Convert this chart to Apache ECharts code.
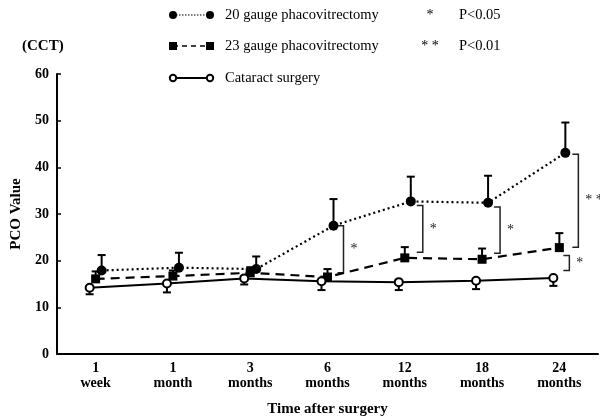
<!DOCTYPE html>
<html><head><meta charset="utf-8">
<script src="https://cdn.jsdelivr.net/npm/echarts@6/dist/echarts.min.js"></script>
<style>html,body{margin:0;padding:0;background:#fff}#c{width:600px;height:418px}</style>
</head><body><div id="c"></div>
<script>
// ---- data ----
const categories = ['1\nweek','1\nmonth','3\nmonths','6\nmonths','12\nmonths','18\nmonths','24\nmonths'];
const g20Mean = [17.9, 18.5, 18.2, 27.5, 32.7, 32.4, 43.1];
const g20SD   = [3.3, 3.2, 2.7, 5.7, 5.3, 5.8, 6.5];
const g23Mean = [16.1, 16.7, 17.4, 16.5, 20.6, 20.3, 22.8];
const g23SD   = [1.6, 1.2, 1.2, 1.7, 2.3, 2.3, 3.1];
const catMean = [14.2, 15.1, 16.2, 15.6, 15.4, 15.7, 16.3];
const catSD   = [1.4, 1.9, 1.3, 1.9, 1.7, 1.8, 1.7];
const yTicks = [0, 10, 20, 30, 40, 50, 60];
// significance brackets
const bracketCat    = [3, 4, 5, 6, 6];
const bracketTop    = [27.5, 31.8, 31.5, 42.8, 21.1];
const bracketBottom = [17.4, 21.8, 21.6, 22.9, 17.9];
const bracketLabel  = ['*', '*', '*', '* *', '*'];
const seriesNames = ['20 gauge phacovitrectomy', '23 gauge phacovitrectomy', 'Cataract surgery'];
const pLabels = [['*', 'P<0.05'], ['* *', 'P<0.01']];

// ---- styles ----
const bracketDx = [10, 12, 12, 13, 4];
const FONT = 'Liberation Serif';

const chart = echarts.init(document.getElementById('c'));

function errRender(dir) {
  return function (params, api) {
    const i = api.value(0), m = api.value(1), e = api.value(2);
    const p0 = api.coord([i, m]);
    const p1 = api.coord([i, m + dir * e]);
    return {
      type: 'group',
      children: [
        { type: 'line', shape: { x1: p0[0], y1: p0[1], x2: p1[0], y2: p1[1] }, style: { stroke: '#000', lineWidth: 2 } },
        { type: 'line', shape: { x1: p1[0] - 4, y1: p1[1], x2: p1[0] + 4, y2: p1[1] }, style: { stroke: '#000', lineWidth: 2 } }
      ]
    };
  };
}

function bracketRender(params, api) {
  const k = params.dataIndex;
  const pT = api.coord([api.value(0), api.value(1)]);
  const pB = api.coord([api.value(0), api.value(2)]);
  const vx = pT[0] + bracketDx[k];
  const arm = 6;
  return {
    type: 'group',
    children: [
      { type: 'polyline', shape: { points: [[vx - arm, pT[1]], [vx, pT[1]], [vx, pB[1]], [vx - arm, pB[1]]] },
        style: { stroke: '#222', lineWidth: 1.5, fill: null } },
      { type: 'text', x: vx + 7, y: (pT[1] + pB[1]) / 2,
        style: { text: bracketLabel[k], fill: '#222', font: '14px ' + FONT, verticalAlign: 'middle', align: 'left' } }
    ]
  };
}

const mk = (mean, sd) => categories.map((c, i) => [i, mean[i], sd[i]]);

const hiddenX = gi => ({ type: 'category', gridIndex: gi, data: categories, show: false, boundaryGap: true });
const hiddenY = gi => ({ type: 'value', gridIndex: gi, min: 0, max: 60, interval: 10, show: false });

// legend graphic
const legendY = [15, 46, 78];
const legendGraphic = [];
legendGraphic.push({ type: 'line', shape: { x1: 173, y1: legendY[0], x2: 210, y2: legendY[0] }, style: { stroke: '#000', lineWidth: 1, lineDash: [1.5, 1.5] } });
legendGraphic.push({ type: 'circle', shape: { cx: 173, cy: legendY[0], r: 4 }, style: { fill: '#000' } });
legendGraphic.push({ type: 'circle', shape: { cx: 210, cy: legendY[0], r: 4 }, style: { fill: '#000' } });
legendGraphic.push({ type: 'line', shape: { x1: 173, y1: legendY[1], x2: 210, y2: legendY[1] }, style: { stroke: '#000', lineWidth: 1.5, lineDash: [5, 4] } });
legendGraphic.push({ type: 'rect', shape: { x: 169, y: legendY[1] - 4, width: 8, height: 8 }, style: { fill: '#000' } });
legendGraphic.push({ type: 'rect', shape: { x: 206, y: legendY[1] - 4, width: 8, height: 8 }, style: { fill: '#000' } });
legendGraphic.push({ type: 'line', shape: { x1: 173, y1: legendY[2], x2: 210, y2: legendY[2] }, style: { stroke: '#000', lineWidth: 2 } });
legendGraphic.push({ type: 'circle', shape: { cx: 173, cy: legendY[2], r: 3.2 }, style: { fill: '#fff', stroke: '#000', lineWidth: 2 } });
legendGraphic.push({ type: 'circle', shape: { cx: 210, cy: legendY[2], r: 3.2 }, style: { fill: '#fff', stroke: '#000', lineWidth: 2 } });
seriesNames.forEach((n, i) => {
  legendGraphic.push({ type: 'text', x: 225, y: legendY[i], style: { text: n, font: '14.5px ' + FONT, fill: '#000', verticalAlign: 'middle' } });
});
pLabels.forEach((p, i) => {
  legendGraphic.push({ type: 'text', x: 430, y: legendY[i], style: { text: p[0], font: '14px ' + FONT, fill: '#000', verticalAlign: 'middle', align: 'center' } });
  legendGraphic.push({ type: 'text', x: 459, y: legendY[i], style: { text: p[1], font: '14.5px ' + FONT, fill: '#000', verticalAlign: 'middle' } });
});
legendGraphic.push({ type: 'text', x: 22, y: 46, style: { text: '(CCT)', font: 'bold 15px ' + FONT, fill: '#000', verticalAlign: 'middle' } });

const gridBase = { top: 74, bottom: 64, containLabel: false, outerBoundsMode: 'none' };

chart.setOption({
  animation: false,
  backgroundColor: '#fff',
  graphic: legendGraphic,
  grid: [
    Object.assign({ left: 57, width: 541 }, gridBase),
    Object.assign({ left: 63, width: 541 }, gridBase),
    Object.assign({ left: 51, width: 541 }, gridBase)
  ],
  xAxis: [
    {
      type: 'category', gridIndex: 0, data: categories, boundaryGap: true,
      name: 'Time after surgery', nameLocation: 'middle', nameGap: 48,
      nameTextStyle: { fontFamily: FONT, fontWeight: 'bold', fontSize: 15, color: '#000' },
      axisLine: { lineStyle: { color: '#000', width: 2 } },
      axisTick: { inside: true, alignWithLabel: true, length: 3, lineStyle: { color: '#000', width: 2 } },
      axisLabel: { fontFamily: FONT, fontWeight: 'bold', fontSize: 14, color: '#000', lineHeight: 15, margin: 7, interval: 0 }
    },
    hiddenX(1), hiddenX(2)
  ],
  yAxis: [
    {
      type: 'value', gridIndex: 0, min: 0, max: 60, interval: 10,
      name: 'PCO Value', nameLocation: 'middle', nameGap: 32,
      nameTextStyle: { fontFamily: FONT, fontWeight: 'bold', fontSize: 15, color: '#000' },
      axisLine: { show: true, lineStyle: { color: '#000', width: 2 } },
      axisTick: { show: true, inside: true, length: 4, lineStyle: { color: '#000', width: 1.5 } },
      axisLabel: { fontFamily: FONT, fontWeight: 'bold', fontSize: 14, color: '#000', margin: 8,
        formatter: v => yTicks.includes(v) ? String(v) : '' },
      splitLine: { show: false }
    },
    hiddenY(1), hiddenY(2)
  ],
  series: [
    { type: 'custom', xAxisIndex: 1, yAxisIndex: 1, renderItem: errRender(1), data: mk(g20Mean, g20SD), z: 1, silent: true, clip: false },
    { type: 'custom', xAxisIndex: 0, yAxisIndex: 0, renderItem: errRender(1), data: mk(g23Mean, g23SD), z: 1, silent: true, clip: false },
    { type: 'custom', xAxisIndex: 2, yAxisIndex: 2, renderItem: errRender(-1), data: mk(catMean, catSD), z: 1, silent: true, clip: false },
    {
      name: seriesNames[0], type: 'line', xAxisIndex: 1, yAxisIndex: 1, data: g20Mean, z: 3,
      symbol: 'circle', symbolSize: 10, showAllSymbol: true, clip: false,
      lineStyle: { color: '#000', width: 2.2, type: [2, 3] },
      itemStyle: { color: '#000' }
    },
    {
      name: seriesNames[1], type: 'line', xAxisIndex: 0, yAxisIndex: 0, data: g23Mean, z: 3,
      symbol: 'rect', symbolSize: 9, showAllSymbol: true, clip: false,
      lineStyle: { color: '#000', width: 2.2, type: [9, 6] },
      itemStyle: { color: '#000' }
    },
    {
      name: seriesNames[2], type: 'line', xAxisIndex: 2, yAxisIndex: 2, data: catMean, z: 3,
      symbol: 'circle', symbolSize: 8, showAllSymbol: true, clip: false,
      lineStyle: { color: '#000', width: 2 },
      itemStyle: { color: '#fff', borderColor: '#000', borderWidth: 2 }
    },
    {
      type: 'custom', xAxisIndex: 1, yAxisIndex: 1, renderItem: bracketRender, z: 2, silent: true, clip: false,
      data: bracketCat.map((c, i) => [c, bracketTop[i], bracketBottom[i]])
    }
  ]
});
</script>
</body></html>
